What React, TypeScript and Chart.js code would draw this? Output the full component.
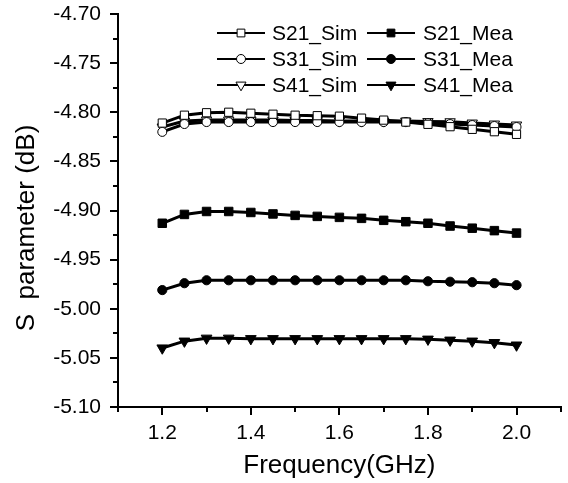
import React, { useEffect, useRef } from 'react';
import { Chart, registerables } from 'chart.js';

Chart.register(...registerables);

const frequencies = [1.2, 1.25, 1.3, 1.35, 1.4, 1.45, 1.5, 1.55, 1.6, 1.65, 1.7, 1.75, 1.8, 1.85, 1.9, 1.95, 2.0];

const s21Sim = [-4.811, -4.803, -4.8005, -4.800, -4.801, -4.802, -4.803, -4.8035, -4.804, -4.806, -4.808, -4.810, -4.8123, -4.8147, -4.8174, -4.8198, -4.8225];
const s21Mea = [-4.913, -4.904, -4.901, -4.901, -4.902, -4.9035, -4.905, -4.906, -4.907, -4.908, -4.910, -4.9114, -4.913, -4.9158, -4.918, -4.9205, -4.923];
const s31Sim = [-4.820, -4.812, -4.810, -4.810, -4.810, -4.810, -4.810, -4.810, -4.810, -4.810, -4.810, -4.810, -4.811, -4.812, -4.813, -4.814, -4.815];
const s31Mea = [-4.981, -4.974, -4.971, -4.971, -4.971, -4.971, -4.971, -4.971, -4.971, -4.971, -4.971, -4.971, -4.972, -4.9725, -4.973, -4.974, -4.976];
const s41Sim = [-4.815, -4.809, -4.808, -4.808, -4.808, -4.808, -4.8085, -4.8085, -4.809, -4.809, -4.809, -4.809, -4.8095, -4.8097, -4.811, -4.812, -4.813];
const s41Mea = [-5.040, -5.033, -5.030, -5.030, -5.0305, -5.0305, -5.0305, -5.0305, -5.0305, -5.0305, -5.0305, -5.0305, -5.031, -5.032, -5.033, -5.0345, -5.037];

const seriesNames = ['S21_Sim', 'S21_Mea', 'S31_Sim', 'S31_Mea', 'S41_Sim', 'S41_Mea'];

const xMajorTicks = [1.2, 1.4, 1.6, 1.8, 2.0];
const xMinorTicks = [1.1, 1.3, 1.5, 1.7, 1.9, 2.1];
const yMajorTicks = [-5.10, -5.05, -5.00, -4.95, -4.90, -4.85, -4.80, -4.75, -4.70];
const yMinorTicks = [-5.075, -5.025, -4.975, -4.925, -4.875, -4.825, -4.775, -4.725];

const FONT = '"Liberation Sans", Arial, sans-serif';

type MarkerKind = 'rect' | 'circle' | 'triangleDown';

function drawMarker(ctx: CanvasRenderingContext2D, kind: MarkerKind, x: number, y: number, r: number, filled: boolean) {
  ctx.save();
  ctx.beginPath();
  if (kind === 'rect') {
    const s = r * Math.SQRT1_2;
    ctx.rect(x - s, y - s, 2 * s, 2 * s);
  } else if (kind === 'circle') {
    ctx.arc(x, y, r, 0, Math.PI * 2);
  } else {
    const w = (r * Math.sqrt(3)) / 2;
    ctx.moveTo(x - w, y - r / 2);
    ctx.lineTo(x + w, y - r / 2);
    ctx.lineTo(x, y + r);
    ctx.closePath();
  }
  ctx.fillStyle = filled ? '#000' : '#fff';
  ctx.fill();
  ctx.lineWidth = 1;
  ctx.strokeStyle = '#000';
  ctx.stroke();
  ctx.restore();
}

const markerKinds: MarkerKind[] = ['rect', 'rect', 'circle', 'circle', 'triangleDown', 'triangleDown'];
const markerFilled = [false, true, false, true, false, true];
const legendRadius = [5.5, 5.5, 4.5, 4.5, 5.8, 5.8];

const extrasPlugin = {
  id: 'extras',
  afterDraw(chart: any) {
    const ctx: CanvasRenderingContext2D = chart.ctx;
    const area = chart.chartArea;
    const xs = chart.scales.x;
    const ys = chart.scales.y;
    ctx.save();
    // minor ticks
    ctx.strokeStyle = '#000';
    ctx.lineWidth = 2;
    ctx.beginPath();
    xMinorTicks.forEach((v) => {
      const px = Math.round(xs.getPixelForValue(v));
      ctx.moveTo(px, area.bottom);
      ctx.lineTo(px, area.bottom + 5);
    });
    yMinorTicks.forEach((v) => {
      const py = Math.round(ys.getPixelForValue(v));
      ctx.moveTo(area.left - 5, py);
      ctx.lineTo(area.left, py);
    });
    ctx.stroke();

    // y axis title
    ctx.save();
    ctx.translate(27, 228);
    ctx.rotate(-Math.PI / 2);
    ctx.fillStyle = '#000';
    ctx.font = `26px ${FONT}`;
    ctx.textAlign = 'center';
    ctx.textBaseline = 'middle';
    ctx.fillText('S  parameter (dB)', 0, 0);
    ctx.restore();

    // legend
    const rowsY = [33, 59, 85];
    const cols = [
      { lineStart: 217, lineEnd: 265, textX: 272 },
      { lineStart: 367, lineEnd: 415, textX: 423 },
    ];
    ctx.font = `21px ${FONT}`;
    ctx.textAlign = 'left';
    ctx.textBaseline = 'middle';
    seriesNames.forEach((name, i) => {
      const row = Math.floor(i / 2);
      const col = cols[i % 2];
      const y = rowsY[row];
      ctx.beginPath();
      ctx.strokeStyle = '#000';
      ctx.lineWidth = 2;
      ctx.moveTo(col.lineStart, y);
      ctx.lineTo(col.lineEnd, y);
      ctx.stroke();
      drawMarker(ctx, markerKinds[i], (col.lineStart + col.lineEnd) / 2, y, legendRadius[i], markerFilled[i]);
      ctx.fillStyle = '#000';
      ctx.fillText(name, col.textX, y + 1);
    });
    ctx.restore();
  },
};

function makeDataset(label: string, values: number[], style: string, filled: boolean, radius: number, rotation: number) {
  return {
    label,
    data: frequencies.map((f, i) => ({ x: f, y: values[i] })),
    borderColor: '#000',
    borderWidth: 3,
    backgroundColor: filled ? '#000' : '#fff',
    pointStyle: style,
    pointRadius: radius,
    pointRotation: rotation,
    pointBackgroundColor: filled ? '#000' : '#fff',
    pointBorderColor: '#000',
    pointBorderWidth: 1,
    tension: 0,
    fill: false,
  };
}

export default function App() {
  const canvasRef = useRef<HTMLCanvasElement | null>(null);

  useEffect(() => {
    document.body.style.margin = '0';
    const canvas = canvasRef.current;
    if (!canvas) return;
    const chart = new Chart(canvas, {
      type: 'line',
      data: {
        datasets: [
          makeDataset(seriesNames[0], s21Sim, 'rect', false, 5.8, 0),
          makeDataset(seriesNames[2], s31Sim, 'circle', false, 4.5, 0),
          makeDataset(seriesNames[4], s41Sim, 'triangle', false, 6, 180),
          makeDataset(seriesNames[1], s21Mea, 'rect', true, 6, 0),
          makeDataset(seriesNames[3], s31Mea, 'circle', true, 4.6, 0),
          makeDataset(seriesNames[5], s41Mea, 'triangle', true, 6.2, 180),
        ],
      },
      options: {
        animation: false,
        responsive: false,
        maintainAspectRatio: false,
        layout: { padding: { top: 14, right: 4, left: 0, bottom: 0 } },
        plugins: {
          legend: { display: false },
          tooltip: { enabled: false },
        },
        scales: {
          x: {
            type: 'linear',
            min: 1.1,
            max: 2.1,
            afterBuildTicks: (s: any) => {
              s.ticks = xMajorTicks.map((v) => ({ value: v }));
            },
            afterFit: (s: any) => {
              s.height = 76;
              s.paddingLeft = 0;
              s.paddingRight = 0;
            },
            ticks: {
              callback: (v: any) => Number(v).toFixed(1),
              color: '#000',
              font: { family: FONT, size: 21 },
              padding: 6,
              maxRotation: 0,
              autoSkip: false,
            },
            grid: { display: true, drawOnChartArea: false, drawTicks: true, tickLength: 8, color: '#000', lineWidth: 2 },
            border: { display: true, color: '#000', width: 2 },
            title: {
              display: true,
              text: 'Frequency(GHz)',
              color: '#000',
              font: { family: FONT, size: 26 },
              padding: { top: 0, bottom: 2 },
            },
          },
          y: {
            type: 'linear',
            min: -5.1,
            max: -4.7,
            afterBuildTicks: (s: any) => {
              s.ticks = yMajorTicks.map((v) => ({ value: v }));
            },
            afterFit: (s: any) => {
              s.width = 118;
              s.paddingTop = 0;
              s.paddingBottom = 0;
            },
            ticks: {
              callback: (v: any) => Number(v).toFixed(2),
              color: '#000',
              font: { family: FONT, size: 21 },
              padding: 9,
              autoSkip: false,
            },
            grid: { display: true, drawOnChartArea: false, drawTicks: true, tickLength: 8, color: '#000', lineWidth: 2 },
            border: { display: true, color: '#000', width: 2 },
          },
        },
      },
      plugins: [extrasPlugin],
    } as any);
    return () => chart.destroy();
  }, []);

  return (
    <div style={{ width: 568, height: 483, background: '#fff' }}>
      <canvas ref={canvasRef} width={568} height={483} />
    </div>
  );
}
